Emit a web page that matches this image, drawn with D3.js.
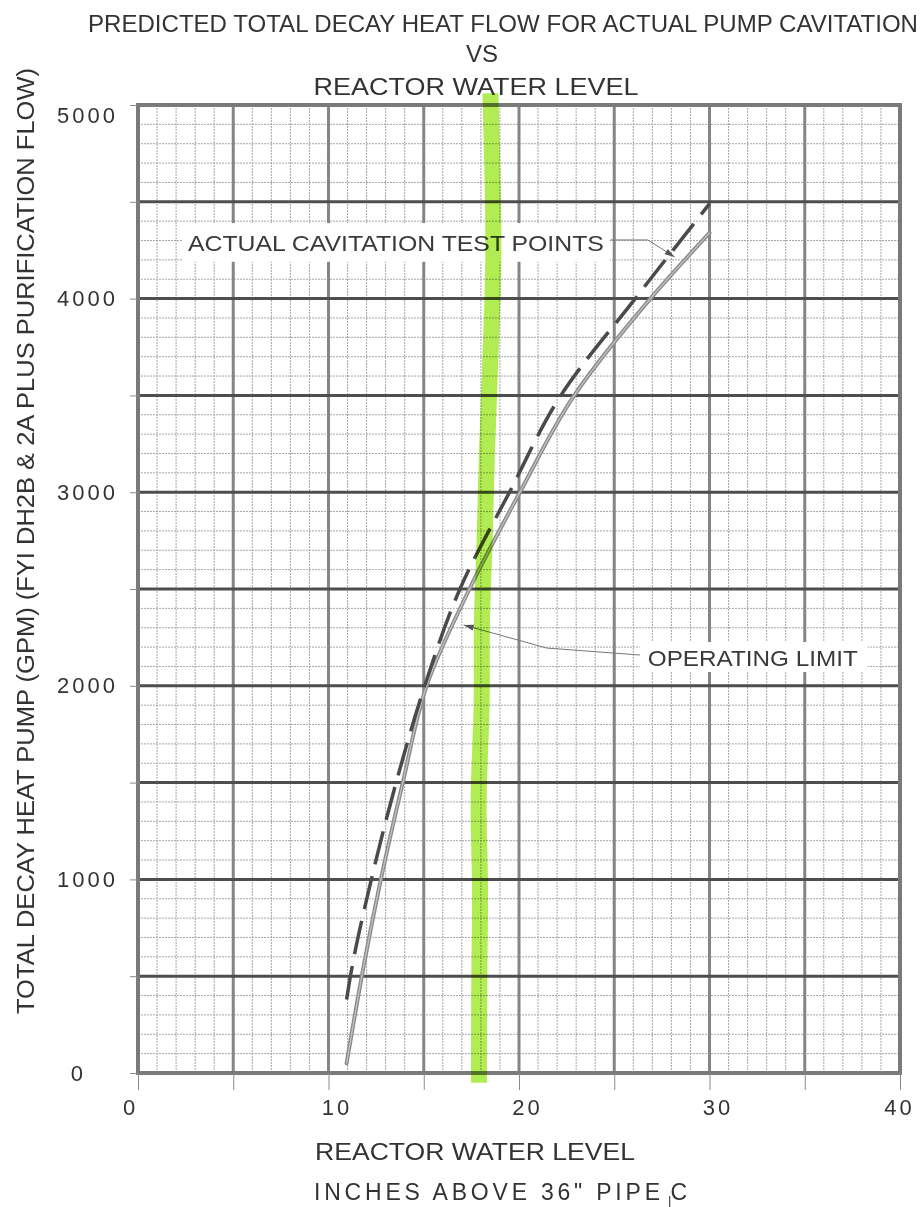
<!DOCTYPE html>
<html>
<head>
<meta charset="utf-8">
<script src="https://cdn.jsdelivr.net/npm/d3@7"></script>
<style>
  body { margin: 0; background: #fff; }
  svg { display: block; font-family: "Liberation Sans", Arial, sans-serif; }
</style>
</head>
<body>
<svg id="chart" width="920" height="1207"></svg>
<script>
// ---- data ----
const titleLines = ["PREDICTED TOTAL DECAY HEAT FLOW FOR ACTUAL PUMP CAVITATION", "VS", "REACTOR WATER LEVEL"];
const xTickLabels = [0, 10, 20, 30, 40];
const yTickLabels = [0, 1000, 2000, 3000, 4000, 5000];

// Operating limit curve (reactor level in inches, total flow in gpm)
const operatingLevel = [10.95, 11.75, 12.75, 13.9, 15.15, 17.4, 20.05, 22.9, 26.9, 30.0];
const operatingFlow  = [50, 500, 1000, 1500, 2000, 2500, 3000, 3500, 4000, 4340];

// Actual cavitation test points curve
const testLevel = [10.95, 11.15, 12.25, 13.55, 15.05, 16.9, 19.5, 22.2, 26.1, 30.0];
const testFlow  = [380, 500, 1000, 1500, 2000, 2500, 3000, 3500, 4000, 4490];

// Hand-drawn highlighter stroke
const markLevel = [18.5, 18.6, 18.7, 18.5, 18.3, 18.2, 18.0, 18.1, 17.8, 18.0, 17.9, 17.9];
const markFlow  = [5060, 4700, 4200, 3700, 3200, 2700, 2300, 1900, 1400, 1000, 500, -50];

// ---- layout ----
const svg = d3.select("#chart");
const x = d3.scaleLinear().domain([0, 40]).range([138, 900]);
const y = d3.scaleLinear().domain([0, 5000]).range([1073, 105]);

// ---- grid ----
const grid = svg.append("g");
const minorX = d3.range(1, 40).filter(d => d % 5 !== 0);
const minorY = d3.range(100, 5000, 100).filter(d => d % 500 !== 0);
grid.selectAll(".mx").data(minorX).join("line")
  .attr("x1", d => x(d)).attr("x2", d => x(d)).attr("y1", y(0)).attr("y2", y(5000))
  .attr("stroke", "#a6a6a6").attr("stroke-width", 1).attr("stroke-dasharray", "2,1");
grid.selectAll(".my").data(minorY).join("line")
  .attr("x1", x(0)).attr("x2", x(40)).attr("y1", d => y(d)).attr("y2", d => y(d))
  .attr("stroke", "#a6a6a6").attr("stroke-width", 1).attr("stroke-dasharray", "2,1");
grid.selectAll(".Mx").data(d3.range(5, 40, 5)).join("line")
  .attr("x1", d => x(d)).attr("x2", d => x(d)).attr("y1", y(0)).attr("y2", y(5000))
  .attr("stroke", "#858585").attr("stroke-width", 3);
grid.selectAll(".My").data(d3.range(500, 5000, 500)).join("line")
  .attr("x1", x(0)).attr("x2", x(40)).attr("y1", d => y(d)).attr("y2", d => y(d))
  .attr("stroke", "#4e4e4e").attr("stroke-width", 3);
grid.append("rect")
  .attr("x", x(0)).attr("y", y(5000)).attr("width", x(40) - x(0)).attr("height", y(0) - y(5000))
  .attr("fill", "none").attr("stroke", "#7a7a7a").attr("stroke-width", 4);

// ---- axes ----
const xAxis = svg.append("g").attr("transform", `translate(0,${y(0)})`)
  .call(d3.axisBottom(x).tickValues(d3.range(0, 41, 5))
    .tickFormat(d => xTickLabels.includes(d) ? d : "")
    .tickSize(17).tickPadding(9));
const yAxis = svg.append("g").attr("transform", `translate(${x(0)},0)`)
  .call(d3.axisLeft(y).tickValues(d3.range(0, 5001, 500))
    .tickFormat(d => yTickLabels.includes(d) ? d : "")
    .tickSize(8).tickPadding(12));
[xAxis, yAxis].forEach(a => {
  a.select(".domain").remove();
  a.selectAll(".tick line").attr("stroke", "#8a8a8a").attr("stroke-width", 1);
  a.selectAll(".tick text").attr("fill", "#333").attr("font-size", 22)
    .attr("letter-spacing", 3).attr("font-family", "Liberation Sans, Arial, sans-serif");
});
xAxis.selectAll(".tick text").attr("dx", d => d === 0 ? -8 : d === 40 ? -1 : 8);
yAxis.selectAll(".tick text").filter(d => d === 0).attr("dx", -32);
yAxis.selectAll(".tick text").filter(d => d === 5000).attr("dy", "0.8em");

// ---- titles ----
const title = svg.append("g").attr("fill", "#333").attr("font-size", 24).attr("text-anchor", "middle");
title.append("text").attr("x", 503).attr("y", 32).attr("textLength", 830)
  .attr("lengthAdjust", "spacingAndGlyphs").text(titleLines[0]);
title.append("text").attr("x", 482).attr("y", 62).text(titleLines[1]);
title.append("text").attr("x", 476).attr("y", 95).attr("textLength", 325)
  .attr("lengthAdjust", "spacingAndGlyphs").text(titleLines[2]);

svg.append("text").attr("fill", "#333").attr("font-size", 23).attr("text-anchor", "middle")
  .attr("transform", "translate(34,541) rotate(-90)")
  .attr("textLength", 946).attr("lengthAdjust", "spacingAndGlyphs")
  .text("TOTAL DECAY HEAT PUMP (GPM) (FYI DH2B & 2A PLUS PURIFICATION FLOW)");

svg.append("text").attr("fill", "#333").attr("font-size", 23).attr("x", 315).attr("y", 1160)
  .attr("textLength", 320).attr("lengthAdjust", "spacingAndGlyphs").text("REACTOR WATER LEVEL");
svg.append("text").attr("fill", "#333").attr("font-size", 23).attr("x", 314).attr("y", 1200)
  .attr("textLength", 346).attr("lengthAdjust", "spacing").text("INCHES ABOVE 36\" PIPE");
const cl = svg.append("text").attr("fill", "#333").attr("font-size", 23).attr("x", 668).attr("y", 1200);
cl.append("tspan").attr("font-size", 13).attr("dy", 5).text("|");
cl.append("tspan").attr("dy", -5).attr("dx", -1).text("C");

// ---- annotation boxes (data units) ----
const notes = [
  { text: "ACTUAL CAVITATION TEST POINTS", box: [2.36, 24.76, 4190, 4390], tx: 2.62, ty: 4246, len: 416,
    leader: [[24.8, 4303], [26.76, 4303], [28.17, 4215]] },
  { text: "OPERATING LIMIT", box: [26.34, 38.3, 2071, 2226], tx: 26.76, ty: 2102, len: 210,
    leader: [[26.34, 2159], [21.46, 2195], [17.1, 2314]] }
];
const ann = svg.append("g");
notes.forEach(n => {
  ann.append("rect").attr("x", x(n.box[0])).attr("y", y(n.box[3]))
    .attr("width", x(n.box[1]) - x(n.box[0])).attr("height", y(n.box[2]) - y(n.box[3]))
    .attr("fill", "#fff");
  ann.append("text").attr("x", x(n.tx)).attr("y", y(n.ty)).attr("fill", "#3a3a3a")
    .attr("font-size", 22).attr("textLength", n.len).attr("lengthAdjust", "spacingAndGlyphs").text(n.text);
  const pts = n.leader.map(p => [x(p[0]), y(p[1])]);
  ann.append("path").attr("d", d3.line()(pts)).attr("fill", "none")
    .attr("stroke", "#777").attr("stroke-width", 1);
  const [a, b] = pts.slice(-2);
  const ang = Math.atan2(b[1] - a[1], b[0] - a[0]);
  const L = 10, W = 3;
  const head = [
    b,
    [b[0] - L * Math.cos(ang) + W * Math.sin(ang), b[1] - L * Math.sin(ang) - W * Math.cos(ang)],
    [b[0] - L * Math.cos(ang) - W * Math.sin(ang), b[1] - L * Math.sin(ang) + W * Math.cos(ang)]
  ];
  ann.append("path").attr("d", d3.line()(head) + "Z").attr("fill", "#555");
});

// ---- curves ----
const curveLine = d3.line().x(d => x(d[0])).y(d => y(d[1])).curve(d3.curveMonotoneY);
const opPts = operatingLevel.map((v, i) => [v, operatingFlow[i]]);
const testPts = testLevel.map((v, i) => [v, testFlow[i]]);

svg.append("path").attr("d", curveLine(opPts)).attr("fill", "none")
  .attr("stroke", "#8c8c8c").attr("stroke-width", 4).attr("stroke-linecap", "round");
svg.append("path").attr("d", curveLine(opPts)).attr("fill", "none")
  .attr("stroke", "#c4c4c4").attr("stroke-width", 1.2);
svg.append("path").attr("d", curveLine(testPts)).attr("fill", "none")
  .attr("stroke", "#4a4a4a").attr("stroke-width", 3.5).attr("stroke-dasharray", "34,12");

// ---- highlighter ----
const markPts = markLevel.map((v, i) => [v, markFlow[i]]);
svg.append("path")
  .attr("d", d3.line().x(d => x(d[0])).y(d => y(d[1])).curve(d3.curveBasis)(markPts))
  .attr("fill", "none").attr("stroke", "#b0ec52").attr("stroke-width", 16)
  .attr("stroke-linecap", "butt").style("mix-blend-mode", "multiply");
</script>
</body>
</html>
